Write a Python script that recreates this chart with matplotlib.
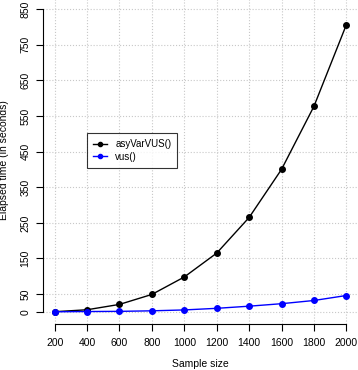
import numpy as np
import matplotlib.pyplot as plt

plt.rcParams['font.family'] = ['Liberation Sans', 'DejaVu Sans']

sample_size = [200, 400, 600, 800, 1000, 1200, 1400, 1600, 1800, 2000]
asyvarvus = [0.5, 6, 21, 49, 98, 165, 265, 400, 577, 806]
vus = [0.3, 1, 1.5, 3, 5.5, 10, 16, 23, 32, 46]
xticks = [200, 400, 600, 800, 1000, 1200, 1400, 1600, 1800, 2000]
yticks = [0, 50, 150, 250, 350, 450, 550, 650, 750, 850]

fig = plt.figure(figsize=(3.58, 3.70), dpi=100)
ax = fig.add_axes([43 / 358, 46 / 370, 315 / 358, 327 / 370])

ax.plot(sample_size, asyvarvus, color='black', marker='o', markersize=4,
        linewidth=1, label='asyVarVUS()')
ax.plot(sample_size, vus, color='#0000ff', marker='o', markersize=4,
        linewidth=1, label='vus()')

ax.set_xlim(128, 2072)
ax.set_ylim(-34, 884)
ax.set_xticks(xticks)
ax.set_yticks(yticks)
ax.set_yticklabels([str(t) for t in yticks], rotation=90, va='center')
ax.tick_params(labelsize=7.5, length=5, width=0.8, direction='out')
ax.tick_params(axis='y', pad=4)
ax.tick_params(axis='x', pad=5)

for s in ['top', 'right']:
    ax.spines[s].set_visible(False)
ax.spines['left'].set_bounds(0, 850)
ax.spines['bottom'].set_bounds(200, 2000)

ax.grid(True, color='#c8c8c8', linestyle=':', linewidth=0.8)
ax.set_axisbelow(True)

ax.set_xlabel('Sample size', fontsize=7.5)
ax.set_ylabel('Elapsed time (in seconds)', fontsize=7.5)
ax.yaxis.set_label_coords(-0.108, 0.5)
ax.xaxis.set_label_coords(0.5, -0.108)

leg = ax.legend(loc='upper left', bbox_to_anchor=(398, 502),
                bbox_transform=ax.transData, fontsize=7, frameon=True,
                fancybox=False, edgecolor='black', handlelength=1.5,
                handletextpad=0.85, borderpad=0.6, labelspacing=0.3,
                borderaxespad=0, markerscale=0.75)
leg.get_frame().set_linewidth(0.8)

fig.savefig('out.png', dpi=100)
